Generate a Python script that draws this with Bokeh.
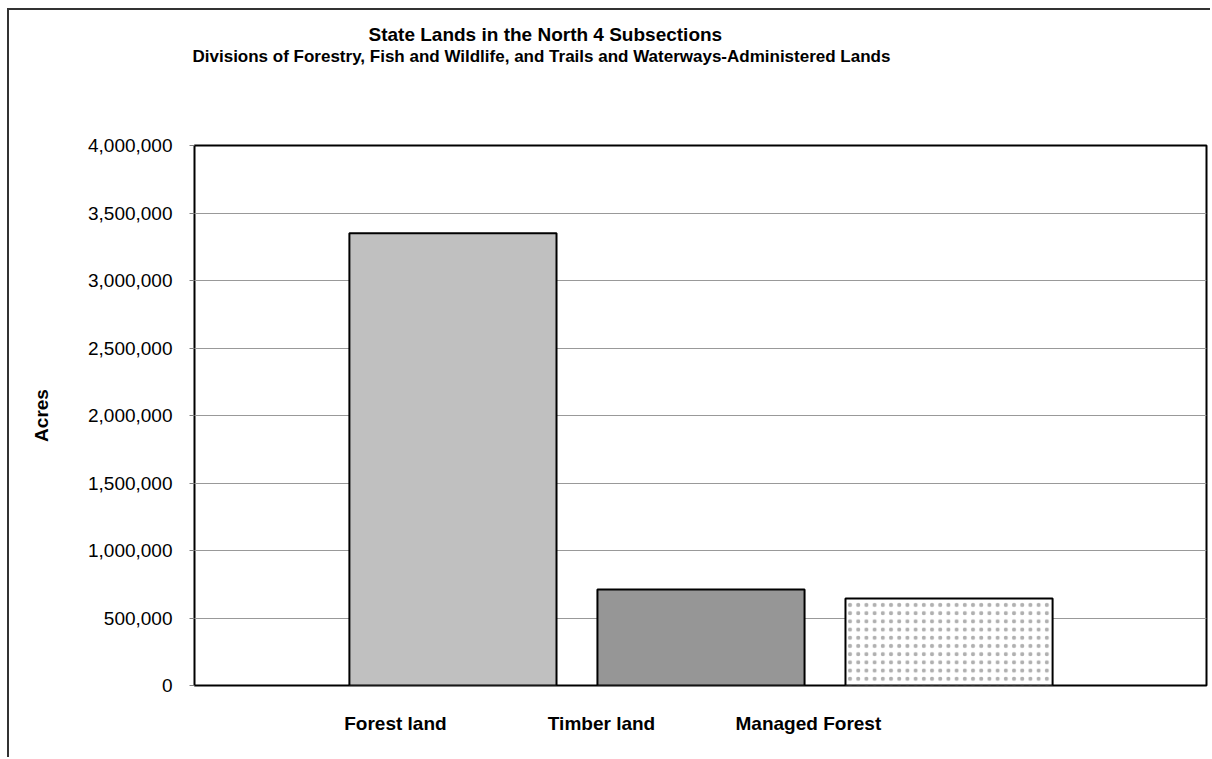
from bokeh.plotting import figure
from bokeh.models import (ColumnDataSource, Range1d, FixedTicker, NumeralTickFormatter, Title)
from bokeh.embed import file_html
from bokeh.resources import INLINE

# ---- data ----
categories = ["Forest land", "Timber land", "Managed Forest"]
acres = [3350000, 711000, 644000]
bar_fill = ["#c0c0c0", "#969696", "#ffffff"]
bar_hatch = [" ", " ", "dot"]
y_ticks = [0, 500000, 1000000, 1500000, 2000000, 2500000, 3000000, 3500000, 4000000]
title_main = "State Lands in the North 4 Subsections"
title_sub = "Divisions of Forestry, Fish and Wildlife, and Trails and Waterways-Administered Lands"
y_label = "Acres"

FONT = "Liberation Sans"

positions = [1, 2, 3]
label_pos = [0.768, 1.599, 2.433]   # Excel-style offset category labels

src = ColumnDataSource(dict(x=positions, top=acres, fill=bar_fill, hatch=bar_hatch, name=categories))

p = figure(width=1203, height=749, output_backend="svg", toolbar_location=None,
           x_range=Range1d(-0.042, 4.038), y_range=Range1d(0, 4000000),
           min_border_left=185, min_border_right=6, min_border_top=135, min_border_bottom=74,
           styles={"margin-left": "7px", "margin-top": "8px",
                   "border-left": "2px solid #333333", "border-top": "2px solid #333333"})

p.background_fill_color = "white"
p.border_fill_color = "white"
p.outline_line_color = "black"
p.outline_line_width = 2

p.vbar(x="x", top="top", bottom=0, width=0.835, source=src,
       fill_color="fill", line_color="black", line_width=2,
       hatch_pattern="hatch", hatch_color="#b0b0b0", hatch_scale=8.2, hatch_weight=1)

# y axis
ya = p.yaxis[0]
ya.ticker = FixedTicker(ticks=y_ticks)
ya.formatter = NumeralTickFormatter(format="0,0")
ya.axis_label = y_label
ya.axis_label_text_font = FONT
ya.axis_label_text_font_style = "bold"
ya.axis_label_text_font_size = "19px"
ya.axis_label_text_color = "black"
ya.axis_label_standoff = 33
ya.major_label_text_font = FONT
ya.major_label_text_font_size = "19px"
ya.major_label_text_color = "black"
ya.major_label_standoff = 17
ya.major_tick_out = 5
ya.major_tick_in = 0
ya.major_tick_line_color = "#808080"
ya.minor_tick_line_color = None
ya.axis_line_color = None

# x axis
xa = p.xaxis[0]
xa.ticker = FixedTicker(ticks=label_pos)
xa.major_label_overrides = {lp: c for lp, c in zip(label_pos, categories)}
xa.major_label_text_font = FONT
xa.major_label_text_font_style = "bold"
xa.major_label_text_font_size = "19px"
xa.major_label_text_color = "black"
xa.major_label_standoff = 21
xa.major_tick_line_color = None
xa.minor_tick_line_color = None
xa.axis_line_color = None

p.xgrid.grid_line_color = None
p.ygrid.ticker = FixedTicker(ticks=y_ticks)
p.ygrid.grid_line_color = "#999999"
p.ygrid.grid_line_width = 1

# titles: spacer next to the frame, then subtitle, then main title
p.add_layout(Title(text=" ", text_font_size="10px", standoff=67), "above")
p.add_layout(Title(text=title_sub, text_font=FONT, text_font_style="bold", text_color="black",
                   text_font_size="17px", align="left", offset=-2, standoff=0), "above")
p.add_layout(Title(text=title_main, text_font=FONT, text_font_style="bold", text_color="black",
                   text_font_size="19px", align="left", offset=174, standoff=0), "above")

open("out.html", "w").write(file_html(p, INLINE))
